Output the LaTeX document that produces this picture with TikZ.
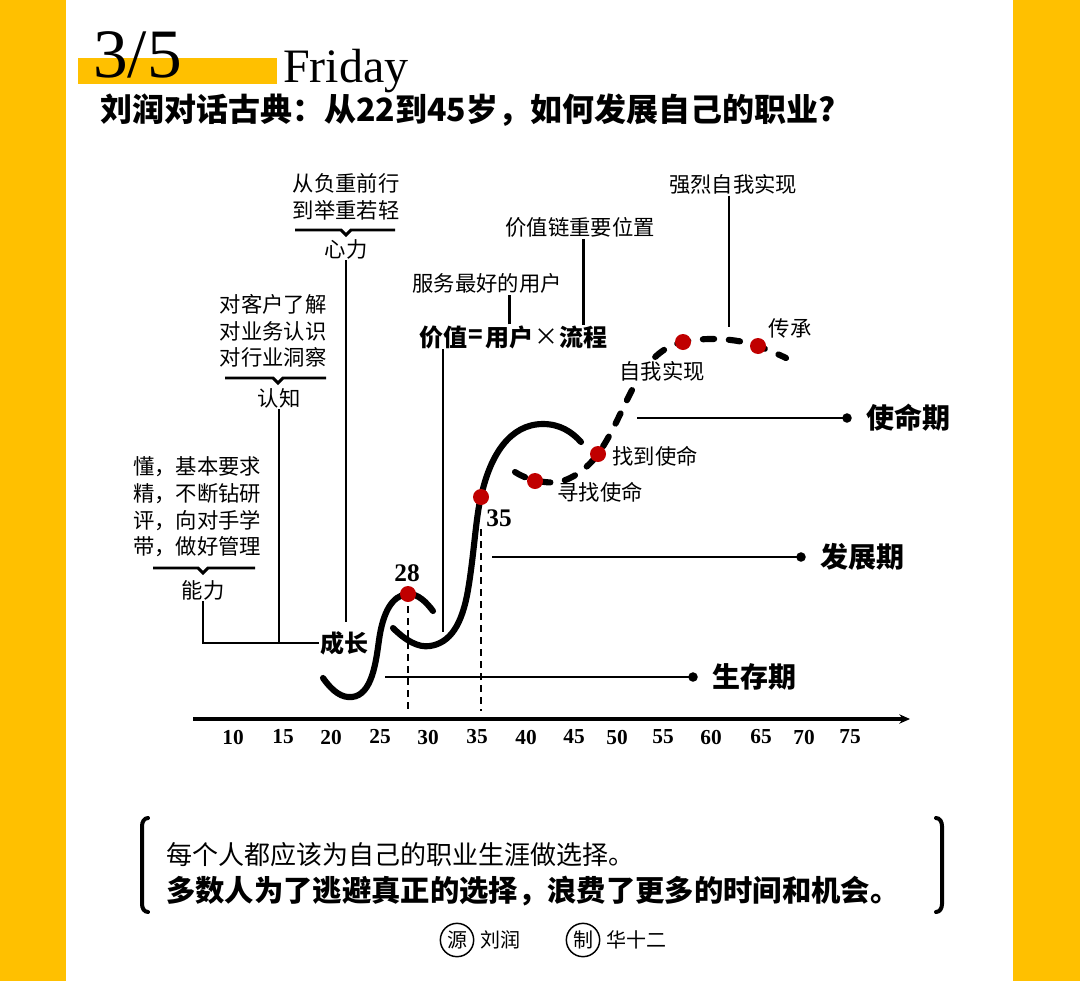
\documentclass[tikz,border=0pt]{standalone}
\usepackage{fontspec}
\setmainfont{Liberation Serif}
\newfontfamily\cjk{Noto Sans CJK SC}
\usetikzlibrary{arrows.meta,positioning,calc}
\definecolor{mustard}{HTML}{FFC000}
\definecolor{dotred}{HTML}{C00000}
\tikzset{
    cjknote/.style={font=\cjk\fontsize{16}{20}\selectfont, align=center, inner sep=1pt},
    cjkstrong/.style={font=\cjk\bfseries\fontsize{18}{22}\selectfont, inner sep=0.5pt},
    stagelabel/.style={font=\cjk\bfseries\fontsize{21}{24}\selectfont, anchor=west, inner sep=1pt},
    agelabel/.style={font=\bfseries\fontsize{16}{18}\selectfont, inner sep=0pt},
    leader/.style={line width=1.9pt},
    bracebar/.style={line width=2.2pt},
    lifecurve/.style={line width=4.6pt, line cap=round},
    lifedash/.style={line width=4.6pt, line cap=round, dash pattern=on 8.5pt off 11pt},
    dropline/.style={line width=1.8pt, dash pattern=on 5pt off 4pt},
    stageline/.style={line width=1.9pt, -{Circle[length=7pt]}},
    reddot/.style={circle, fill=dotred, minimum size=12pt, inner sep=0pt},
    axisline/.style={line width=2.4pt, -{Stealth[length=8pt, width=7pt]}},
    sealmark/.style={circle, draw, line width=1.1pt, minimum size=25pt, inner sep=0pt, font=\cjk\fontsize{15}{15}\selectfont}
}
\begin{document}
\begin{tikzpicture}[x=0.75pt, y=-0.75pt]
    \useasboundingbox (0,0) rectangle (1080,981);
    \fill[mustard] (0,0) rectangle (66,981);
    \fill[mustard] (1013,0) rectangle (1080,981);

    % heading
    \fill[mustard] (78,58) rectangle (277,84);
    \node[anchor=base west, inner sep=0pt, font=\fontsize{52}{52}\selectfont] (daynum) at (93,77) {3/5};
    \node[anchor=base west, inner sep=0pt, font=\fontsize{36}{36}\selectfont] (dayname) at (283,82) {Friday};
    \node[anchor=west, inner sep=0pt, font=\cjk\bfseries\fontsize{24}{26}\selectfont] (title) at (100,110) {刘润对话古典：从22到45岁，如何发展自己的职业?};

    % axis
    \coordinate (axisstart) at (193,719);
    \coordinate (axisend) at (910,719);
    \draw[axisline] (axisstart) -- (axisend);
    \foreach \a/\x in {10/233,15/283,20/331,25/380,30/428,35/477,40/526,45/574,50/617,55/663,60/711,65/761,70/804,75/850}
        \node[agelabel] (age\a) at (\x,737) {\a};

    % stages
    \node[stagelabel] (shengcun) at (711,677) {生存期};
    \node[stagelabel] (fazhan) at (819,557) {发展期};
    \node[stagelabel] (shiming) at (865,418) {使命期};
    \coordinate (shengcunstart) at (385,677);
    \coordinate (fazhanstart) at (492,557);
    \coordinate (shimingstart) at (637,418);
    \draw[stageline] (shengcunstart) -- ([xshift=-10pt]shengcun.west);
    \draw[stageline] (fazhanstart) -- ([xshift=-10pt]fazhan.west);
    \draw[stageline] (shimingstart) -- ([xshift=-10pt]shiming.west);

    % curves
    \draw[lifecurve] (323,678) .. controls (333,692) and (342,698) .. (352,697)
        .. controls (372,695) and (376,662) .. (379,640)
        .. controls (383,612) and (392,596) .. (407,594)
        .. controls (418,593) and (427,603) .. (433,611);
    \draw[lifecurve] (393,628) .. controls (405,640) and (418,648) .. (430,646)
        .. controls (450,643) and (462,625) .. (468,590)
        .. controls (474,555) and (476,515) .. (481,497)
        .. controls (490,455) and (510,424) .. (543,424)
        .. controls (560,424) and (572,432) .. (581,442);
    \draw[lifedash] (515,472) .. controls (525,479) and (545,484) .. (558,482)
        .. controls (575,479) and (590,465) .. (598,454)
        .. controls (615,430) and (625,400) .. (640,376)
        .. controls (652,357) and (665,346) .. (683,342)
        .. controls (705,337) and (735,338) .. (758,346)
        .. controls (768,350) and (778,354) .. (786,358);

    % milestones
    \node[reddot] (dot28) at (408,594) {};
    \node[reddot] (dot35) at (481,497) {};
    \node[reddot] (seek) at (535,481) {};
    \node[reddot] (found) at (598,454) {};
    \node[reddot] (selfreal) at (683,342) {};
    \node[reddot] (legacy) at (758,346) {};
    \node[font=\bfseries\fontsize{19}{20}\selectfont, inner sep=0pt] (age28) at (407,573) {28};
    \node[font=\bfseries\fontsize{19}{20}\selectfont, inner sep=0pt] (age35) at (499,518) {35};
    \draw[dropline] ([yshift=-3pt]dot28.south) -- ([yshift=6pt]dot28.south |- axisstart);
    \draw[dropline] ([yshift=-18pt]dot35.south) -- ([yshift=6pt]dot35.south |- axisstart);
    \node[cjknote] (seeklabel) at (600,492) {寻找使命};
    \node[cjknote] (foundlabel) at (655,456) {找到使命};
    \node[cjknote, fill=white] (selflabel) at (662,371) {自我实现};
    \node[cjknote] (legacylabel) at (790,328) {传承};

    % growth tree
    \node[cjkstrong] (chengzhang) at (344,643) {成长};
    \node[cjknote] (nenglitext) at (197,507) {懂，基本要求\\精，不断钻研\\评，向对手学\\带，做好管理};
    \draw[bracebar] (153,568) -- (198,568) -- (203,573) -- (208,568) -- (255,568);
    \node[cjknote] (nengli) at (203,590) {能力};
    \node[cjknote] (renzhitext) at (273,331) {对客户了解\\对业务认识\\对行业洞察};
    \draw[bracebar] (225,378) -- (273,378) -- (278,383) -- (283,378) -- (326,378);
    \node[cjknote] (renzhi) at (279,398) {认知};
    \node[cjknote] (xinlitext) at (346,197) {从负重前行\\到举重若轻};
    \draw[bracebar] (295,230) -- (341,230) -- (346,235) -- (351,230) -- (395,230);
    \node[cjknote] (xinli) at (346,249) {心力};
    \draw[leader] (nengli.south) |- (chengzhang.west);
    \draw[leader] (renzhi.south) -- (renzhi.south |- chengzhang.west);
    \draw[leader] (xinli.south) -- ([yshift=6pt]xinli.south |- chengzhang.north);

    % value formula
    \node[cjkstrong] (jiazhi) at (443,337) {价值};
    \node[cjkstrong, right=0pt of jiazhi] (eqsign) {=};
    \node[cjkstrong, right=0pt of eqsign] (yonghu) {用户};
    \node[cjknote, font=\cjk\fontsize{18}{22}\selectfont, inner sep=0pt, right=0pt of yonghu] (times) {×};
    \node[cjkstrong, right=0pt of times] (liucheng) {流程};
    \node[cjknote] (fuwu) at (487,283) {服务最好的用户};
    \node[cjknote] (jiazhilian) at (580,227) {价值链重要位置};
    \node[cjknote] (qianglie) at (733,184) {强烈自我实现};
    \coordinate (jiazhifoot) at (443,632);
    \coordinate (selftop) at (729,327);
    \draw[leader] (jiazhi.south) -- (jiazhifoot);
    \draw[leader] (yonghu.north) -- (yonghu.north |- fuwu.south);
    \draw[leader] (liucheng.north) -- (liucheng.north |- jiazhilian.south);
    \draw[leader] (qianglie.south -| selftop) -- (selftop);

    % quote
    \draw[line width=3pt, line cap=round] (148,818) to[out=180, in=90] (142,826) -- (142,904) to[out=-90, in=180] (148,912);
    \draw[line width=3pt, line cap=round] (936,818) to[out=0, in=90] (942,826) -- (942,904) to[out=-90, in=0] (936,912);
    \node[anchor=west, inner sep=0pt, font=\cjk\fontsize{19.5}{22}\selectfont] (quoteone) at (166,855) {每个人都应该为自己的职业生涯做选择。};
    \node[anchor=west, inner sep=0pt, font=\cjk\bfseries\fontsize{22}{24}\selectfont] (quotetwo) at (166,891) {多数人为了逃避真正的选择，浪费了更多的时间和机会。};

    % credits
    \node[sealmark] (yuan) at (457,940) {源};
    \node[cjknote, font=\cjk\fontsize{15}{16}\selectfont, right=3pt of yuan] (liurun) {刘润};
    \node[sealmark] (zhi) at (583,940) {制};
    \node[cjknote, font=\cjk\fontsize{15}{16}\selectfont, right=3pt of zhi] (huashier) {华十二};
\end{tikzpicture}
\end{document}
